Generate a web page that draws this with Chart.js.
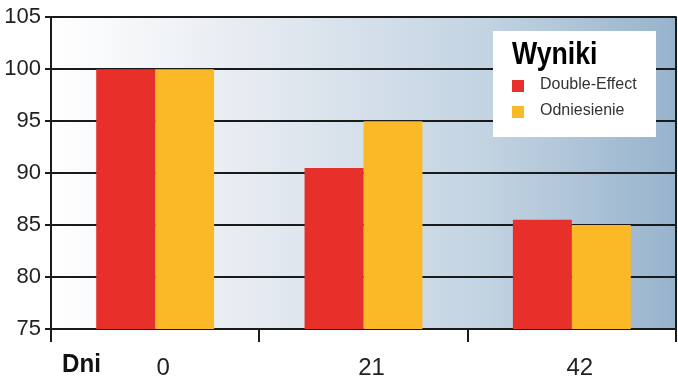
<!DOCTYPE html>
<html>
<head>
<meta charset="utf-8">
<script src="https://cdn.jsdelivr.net/npm/chart.js@4.4.1/dist/chart.umd.min.js"></script>
<style>
html,body{margin:0;padding:0;background:#fff;}
#wrap{width:678px;height:378px;}
</style>
</head>
<body>
<div id="wrap"><canvas id="c" width="678" height="378"></canvas></div>
<script>
const categories = ['0', '21', '42'];
const doubleEffect = [100, 90.5, 85.5];
const odniesienie = [100, 95, 85];
const seriesNames = ['Double-Effect', 'Odniesienie'];
const legendTitle = 'Wyniki';
const xTitle = 'Dni';
const yMin = 75, yMax = 105, yStep = 5;

const RED = '#e8302a', ORANGE = '#fbb928', INK = '#1a1a1a';

function condensedText(ctx, text, x, y, sx) {
  ctx.save();
  ctx.translate(x, y);
  ctx.scale(sx, 1);
  ctx.fillText(text, 0, 0);
  ctx.restore();
}

const bgPlugin = {
  id: 'bg',
  beforeDraw(chart) {
    const {ctx, chartArea: a} = chart;
    ctx.save();
    const g = ctx.createLinearGradient(a.left, 0, a.right, 0);
    g.addColorStop(0, '#ffffff');
    g.addColorStop(0.35, '#e3e9f0');
    g.addColorStop(0.7, '#c2d3e2');
    g.addColorStop(1, '#97b3cc');
    ctx.fillStyle = g;
    ctx.fillRect(a.left, a.top, a.right - a.left, a.bottom - a.top);
    ctx.restore();
  },
  afterDraw(chart) {
    const {ctx, chartArea: a} = chart;
    ctx.save();
    // right border
    ctx.strokeStyle = INK;
    ctx.lineWidth = 2;
    ctx.beginPath();
    ctx.moveTo(a.right, a.top - 1);
    ctx.lineTo(a.right, a.bottom);
    ctx.stroke();
    // x title
    ctx.fillStyle = '#111';
    ctx.font = "bold 26px 'Liberation Sans', sans-serif";
    ctx.textBaseline = 'alphabetic';
    ctx.textAlign = 'left';
    condensedText(ctx, xTitle, 62, 372, 0.93);
    // legend box
    const bx = 493, by = 31, bw = 163, bh = 106;
    ctx.fillStyle = '#ffffff';
    ctx.fillRect(bx, by, bw, bh);
    ctx.fillStyle = '#000';
    ctx.font = "bold 31px 'Liberation Sans', sans-serif";
    condensedText(ctx, legendTitle, 512, 64, 0.86);
    ctx.font = "16px 'Liberation Sans', sans-serif";
    ctx.textBaseline = 'middle';
    const ys = [86, 112];
    chart.data.datasets.forEach((ds, i) => {
      ctx.fillStyle = ds.backgroundColor;
      ctx.fillRect(512, ys[i] - 6, 12, 12);
      ctx.fillStyle = '#333';
      ctx.fillText(ds.label, 540, ys[i] - 1);
    });
    ctx.restore();
  }
};

new Chart(document.getElementById('c'), {
  type: 'bar',
  data: {
    labels: categories,
    datasets: [
      {label: seriesNames[0], data: doubleEffect, backgroundColor: RED, borderWidth: 0},
      {label: seriesNames[1], data: odniesienie, backgroundColor: ORANGE, borderWidth: 0}
    ]
  },
  options: {
    responsive: false,
    animation: false,
    layout: {padding: {top: 14, right: 2, left: 0, bottom: 0}},
    plugins: {legend: {display: false}, tooltip: {enabled: false}},
    datasets: {bar: {categoryPercentage: 0.566, barPercentage: 1}},
    scales: {
      x: {
        grid: {display: true, drawOnChartArea: false, offset: true, color: INK, lineWidth: 2, tickLength: 13},
        border: {display: true, color: INK, width: 2},
        ticks: {color: '#222', font: {family: "'Liberation Sans', sans-serif", size: 24}, padding: 12, labelOffset: 8},
        afterFit(s) { s.height = 49; }
      },
      y: {
        min: yMin, max: yMax,
        grid: {color: INK, lineWidth: 2, tickLength: 6, drawTicks: true},
        border: {display: true, color: INK, width: 2},
        ticks: {stepSize: yStep, color: '#222', font: {family: "'Liberation Sans', sans-serif", size: 22}, padding: 4},
        afterFit(s) { s.width = 51; }
      }
    }
  },
  plugins: [bgPlugin]
});
</script>
</body>
</html>
